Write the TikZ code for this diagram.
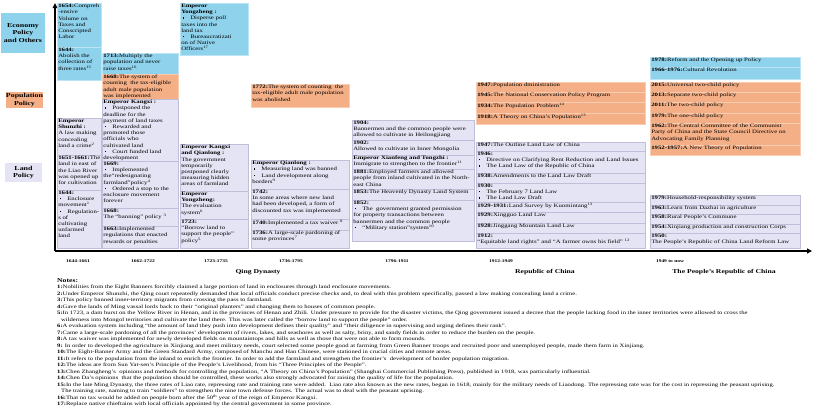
\documentclass[tikz,border=0pt]{standalone}
\usepackage{fontspec}
\setmainfont{Liberation Serif}[FakeStretch=1.3]
\usetikzlibrary{arrows.meta}
\definecolor{ecoblue}{HTML}{8ED2EC}
\definecolor{ecoline}{HTML}{BBE4F4}
\definecolor{popor}{HTML}{F4AF86}
\definecolor{popline}{HTML}{F8CDB3}
\definecolor{landlav}{HTML}{E4E4F4}
\definecolor{landline}{HTML}{BFBFDA}

\newcommand{\cellfont}{\fontsize{5.2bp}{6.2bp}\selectfont}
\newcommand{\notefont}{\fontsize{5.1bp}{6.5bp}\selectfont}
\newcommand{\bmark}{\rule[1.3bp]{1.1bp}{1.1bp}}
\newcommand{\bitem}{\par\hangindent=9bp\hangafter=1\noindent\makebox[9bp][l]{\hspace{1.2bp}\bmark}}
\newcommand{\sups}[1]{\textsuperscript{#1}}
\newcommand{\boxcell}[7]{%
  \pgfmathsetlengthmacro{\cellw}{(#5-#3)*1bp}%
  \pgfmathsetlengthmacro{\cellh}{(#6-#4)*1bp}%
  \node[#2] (#1) at (#3,#4) {\parbox[c][\cellh][t]{\cellw}{\cellfont\raggedright\leftskip=1.3bp\vspace*{1bp}#7\par}};%
}
\tikzset{
  cellbase/.style={anchor=north west, inner sep=0pt, outer sep=0pt, line width=0.5bp},
  eco/.style={cellbase, fill=ecoblue, draw=ecoline},
  pop/.style={cellbase, fill=popor, draw=popline},
  land/.style={cellbase, fill=landlav, draw=landline},
  rowlabel/.style={inner sep=0pt, align=center, font=\fontsize{6.1bp}{7.3bp}\selectfont\bfseries},
  yearlab/.style={inner sep=0pt, font=\fontsize{4.2bp}{5bp}\selectfont\bfseries},
  eralab/.style={inner sep=0pt, font=\fontsize{5.9bp}{7bp}\selectfont\bfseries},
  axis/.style={line width=2bp, -{Triangle[length=5bp,width=5bp]}},
  vaxis/.style={line width=1.4bp, -{Triangle[length=5bp,width=4.5bp]}},
}
\begin{document}
\begin{tikzpicture}[x=1bp,y=-1bp]
\fill[white] (0,0) rectangle (814,416);
\useasboundingbox (0,0) rectangle (814,416);

% row labels
\node[rowlabel, fill=ecoblue, minimum width=44bp, minimum height=40bp] (ecolab) at (23,33) {Economy\\Policy\\and Others};
\node[rowlabel, fill=popor, minimum width=35bp, minimum height=16bp] (poplab) at (24.5,100) {Population\\Policy};
\node[rowlabel, fill=landlav, minimum width=37bp, minimum height=19bp] (landlab) at (23.5,172.5) {Land\\Policy};

% column 1
\boxcell{e1a}{eco}{57}{3}{101}{47}{\textbf{1654:}Compreh\\-ensive\\Volume on\\Taxes and\\Conscripted\\Labor}
\boxcell{e1b}{eco}{57}{47}{101}{80}{\textbf{1644:}\\Abolish the\\collection of\\three rates\sups{15}}
\boxcell{l1a}{land}{57}{118}{101}{155}{\textbf{Emperor}\\\textbf{Shunzhi :}\\A law making\\concealing\\land a crime\sups{2}}
\boxcell{l1b}{land}{57}{155}{101}{190}{\mbox{\textbf{1651-1661:}The}\\land in east of\\the Liao River\\was opened up\\for cultivation}
\boxcell{l1c}{land}{57}{190}{101}{248}{\textbf{1644:}\bitem Enclosure\\movement\sups{1}\bitem Regulation-\\s of\\cultivating\\unfarmed\\land}

% column 2
\boxcell{e2}{eco}{102}{53}{178}{74}{\textbf{1713:}Multiply the\\population and never\\raise taxes\sups{16}}
\boxcell{p2}{pop}{102}{74}{178}{99}{\textbf{1668:}The system of\\counting\ \ the tax-eligible\\adult male population\\was implemented}
\boxcell{l2a}{land}{102}{99}{178}{161}{\textbf{Emperor Kangxi :}\bitem Postponed the\\deadline for the\\payment of land taxes\bitem Rewarded and\\promoted those\\officials who\\cultivated land\bitem Court funded land\\development}
\boxcell{l2b}{land}{102}{161}{178}{208}{\textbf{1669:}\bitem Implemented\\the``redesignating\\farmland''policy\sups{4}\bitem Ordered a stop to the\\enclosure movement\\forever}
\boxcell{l2c}{land}{102}{208}{178}{226}{\textbf{1668:}\\The ``banning'' policy \sups{3}}
\boxcell{l2d}{land}{102}{226}{178}{248}{\textbf{1663:}Implemented\\regulations that enacted\\rewards or penalties}

% column 3
\boxcell{e3}{eco}{180}{3}{248}{55}{\textbf{Emperor}\\\textbf{Yongzheng :}\bitem Disperse poll\\taxes into the\\land tax\bitem Bureaucratizati\\on of Native\\Officers\sups{17}}
\boxcell{l3a}{land}{180}{144}{248}{191}{\textbf{Emperor Kangxi}\\\textbf{and Qianlong :}\\The government\\temporarily\\postponed clearly\\measuring hidden\\areas of farmland}
\boxcell{l3b}{land}{180}{191}{248}{219}{\textbf{Emperor}\\\textbf{Yongzheng:}\\The evaluation\\system\sups{6}}
\boxcell{l3c}{land}{180}{219}{248}{248}{\textbf{1723:}\\``Borrow land to\\support the people''\\policy\sups{5}}

% column 4
\boxcell{p4}{pop}{251}{84}{349}{107}{\textbf{1772:}The system of counting\ \ the\\tax-eligible adult male population\\was abolished}
\boxcell{l4a}{land}{251}{160}{349}{189}{\textbf{Emperor Qianlong :}\bitem Measuring land was banned\bitem Land development along\\borders\sups{9}}
\boxcell{l4b}{land}{251}{189}{349}{219}{\textbf{1742:}\\In some areas where new land\\had been developed, a form of\\discounted tax was implemented}
\boxcell{l4c}{land}{251}{219}{349}{230}{\textbf{1740:}Implemented a tax waiver \sups{8}}
\boxcell{l4d}{land}{251}{230}{349}{248}{\textbf{1736:}A large-scale pardoning of\\some provinces\sups{7}}

% column 5
\boxcell{l5a}{land}{352}{120}{474}{140}{\textbf{1904:}\\Bannermen and the common people were\\allowed to cultivate in Heilongjiang}
\boxcell{l5b}{land}{352}{140}{474}{155}{\textbf{1902:}\\Allowed to cultivate in Inner Mongolia}
\boxcell{l5c}{land}{352}{155}{474}{169}{\textbf{Emperor Xianfeng and Tongzhi :}\\Immigrate to strengthen to the frontier\sups{11}}
\boxcell{l5d}{land}{352}{169}{474}{189}{\textbf{1881:}Employed farmers and allowed\\\mbox{people from inland cultivated in the North-}\\east China}
\boxcell{l5e}{land}{352}{189}{474}{200}{\textbf{1853:}The Heavenly Dynasty Land System}
\boxcell{l5f}{land}{352}{200}{474}{241}{\textbf{1852:}\bitem The\ \ government granted permission\\for property transactions between\\bannermen and the common people\bitem ``Military station''system\sups{10}}

% column 6
\boxcell{p6a}{pop}{476}{82}{645}{92}{\textbf{1947:}Population dministration}
\boxcell{p6b}{pop}{476}{92}{645}{102}{\textbf{1945:}The National Conservation Policy Program}
\boxcell{p6c}{pop}{476}{102}{645}{113}{\textbf{1934:}The Population Problem\sups{14}}
\boxcell{p6d}{pop}{476}{113}{645}{124}{\textbf{1918:}A Theory on China's Population\sups{13}}
\boxcell{l6a}{land}{476}{142}{645}{151}{\textbf{1947:}The Outline Land Law of China}
\boxcell{l6b}{land}{476}{151}{645}{173}{\textbf{1946:}\bitem Directive on Clarifying Rent Reduction and Land Issues\bitem The Land Law of the Republic of China}
\boxcell{l6c}{land}{476}{173}{645}{183}{\textbf{1938:}Amendments to the Land Law Draft}
\boxcell{l6d}{land}{476}{183}{645}{202}{\textbf{1930:}\bitem The February 7 Land Law\bitem The Land Law Draft}
\boxcell{l6e}{land}{476}{202}{645}{212}{\textbf{1929-1931:}Land Survey by Kuomintang\sups{13}}
\boxcell{l6f}{land}{476}{212}{645}{223}{\textbf{1929:}Xingguo Land Law}
\boxcell{l6g}{land}{476}{223}{645}{233}{\textbf{1928:}Jinggang Mountain Land Law}
\boxcell{l6h}{land}{476}{233}{645}{248}{\textbf{1912:}\\``Equitable land rights'' and ``A farmer owns his field'' \sups{12}}

% column 7
\boxcell{e7a}{eco}{650}{57}{800}{67}{\textbf{1978:}Reform and the Opening up Policy}
\boxcell{e7b}{eco}{650}{67}{800}{79}{\textbf{1966-1976:}Cultural Revolution}
\boxcell{p7a}{pop}{650}{82}{800}{92}{\textbf{2015:}Universal two-child policy}
\boxcell{p7b}{pop}{650}{92}{800}{102}{\textbf{2013:}Separate two-child policy}
\boxcell{p7c}{pop}{650}{102}{800}{113}{\textbf{2011:}The two-child policy}
\boxcell{p7d}{pop}{650}{113}{800}{123}{\textbf{1979:}The one-child policy}
\boxcell{p7e}{pop}{650}{123}{800}{145}{\textbf{1962:}The Central Committee of the Communist\\Party of China and the State Council Directive on\\Advocating Family Planning}
\boxcell{p7f}{pop}{650}{145}{800}{155}{\textbf{1952-1957:}A New Theory of Population}
\boxcell{l7a}{land}{650}{195}{800}{205}{\textbf{1979:}Household-responsibility system}
\boxcell{l7b}{land}{650}{205}{800}{214}{\textbf{1963:}Learn from Dazhai in agriculture}
\boxcell{l7c}{land}{650}{214}{800}{224}{\textbf{1958:}Rural People's Commune}
\boxcell{l7d}{land}{650}{224}{800}{233}{\textbf{1954:}Xinjiang production and construction Corps}
\boxcell{l7e}{land}{650}{233}{800}{248}{\textbf{1950:}\\The People's Republic of China Land Reform Law}

% axes
\coordinate (origin) at (55,251);
\coordinate (vtop) at (55,3);
\coordinate (tlend) at (812,251);
\draw[vaxis] (origin) -- (vtop);
\draw[axis] (origin) -- (tlend);

% period labels
\node[yearlab] (t1) at (78,261) {1644-1661};
\node[yearlab] (t2) at (143,261) {1662-1722};
\node[yearlab] (t3) at (216,261) {1723-1735};
\node[yearlab] (t4) at (291,261) {1736-1795};
\node[yearlab] (t5) at (397,261) {1796-1911};
\node[yearlab] (t6) at (501,261) {1912-1949};
\node[yearlab] (t7) at (670,261) {1949 to now};
\node[eralab] (qing) at (258,272) {Qing Dynasty};
\node[eralab] (roc) at (545,272) {Republic of China};
\node[eralab] (prc) at (724,272) {The People's Republic of China};

% notes
\node[eralab, anchor=north west] (nthead) at (57,278) {Notes:};
\node[anchor=north west, inner sep=0pt, align=left, font=\notefont] (notes) at (57,285) {%
\textbf{1:}Nobilities from the Eight Banners forcibly claimed a large portion of land in enclosures through land enclosure movements.\\
\textbf{2:}Under Emperor Shunzhi, the Qing court repeatedly demanded that local officials conduct precise checks and, to deal with this problem specifically, passed a law making concealing land a crime.\\
\textbf{3:}This policy banned inner-territory migrants from crossing the pass to farmland.\\
\textbf{4:}Gave the lands of Ming vassal lords back to their ``original planters'' and changing them to houses of common people.\\
\textbf{5:}In 1723, a dam burst on the Yellow River in Henan, and in the provinces of Henan and Zhili. Under pressure to provide for the disaster victims, the Qing government issued a decree that the people lacking food in the inner territories were allowed to cross the\\
\hspace*{4bp}wilderness into Mongol territories and cultivate the land there. This was later called the ``borrow land to support the people'' order.\\
\textbf{6:}A evaluation system including ``the amount of land they push into development defines their quality'' and ``their diligence in supervising and urging defines their rank''.\\
\textbf{7:}Came a large-scale pardoning of all the provinces' development of rivers, lakes, and seashores as well as salty, briny, and sandy fields in order to reduce the burden on the people.\\
\textbf{8:}A tax waiver was implemented for newly developed fields on mountaintops and hills as well as those that were not able to form mounds.\\
\textbf{9:} In order to developed the agriculture in Xinjiang and meet military needs, court selected some people good at farming from Green Banner troops and recruited poor and unemployed people, made them farm in Xinjiang.\\
\textbf{10:}The Eight-Banner Army and the Green Standard Army, composed of Manchu and Han Chinese, were stationed in crucial cities and remote areas.\\
\textbf{11:}It refers to the population from the inland to enrich the frontier. In order to add the farmland and strengthen the frontier's\ \ development of border population migration.\\
\textbf{12:}The ideas are from Sun Yat-sen's Principle of the People's Livelihood, from his ``Three Principles of the People''.\\
\textbf{13:}Chen Zhangheng's\ \ opinions and methods for controlling the population, ``A Theory on China's Population'' (Shanghai Commercial Publishing Press), published in 1918, was particularly influential.\\
\textbf{14:}Chen Da's opinions\ \ that the population should be controlled, these works also strongly advocated for raising the quality of life for the population.\\
\textbf{15:}In the late Ming Dynasty, the three rates of Liao rate, repressing rate and training rate were added.\ \ Liao rate also known as the new rates, began in 1618, mainly for the military needs of Liaodong. The repressing rate was for the cost in repressing the peasant uprising.\\
\hspace*{4bp}The training rate, naming to train ``soldiers'' to strengthen the nine town defense forces. The actual was to deal with the peasant uprising.\\
\textbf{16:}That no tax would be added on people born after the 50\textsuperscript{th} year of the reign of Emperor Kangxi.\\
\textbf{17:}Replace native chieftains with local officials appointed by the central government in some province.};
\end{tikzpicture}
\end{document}
